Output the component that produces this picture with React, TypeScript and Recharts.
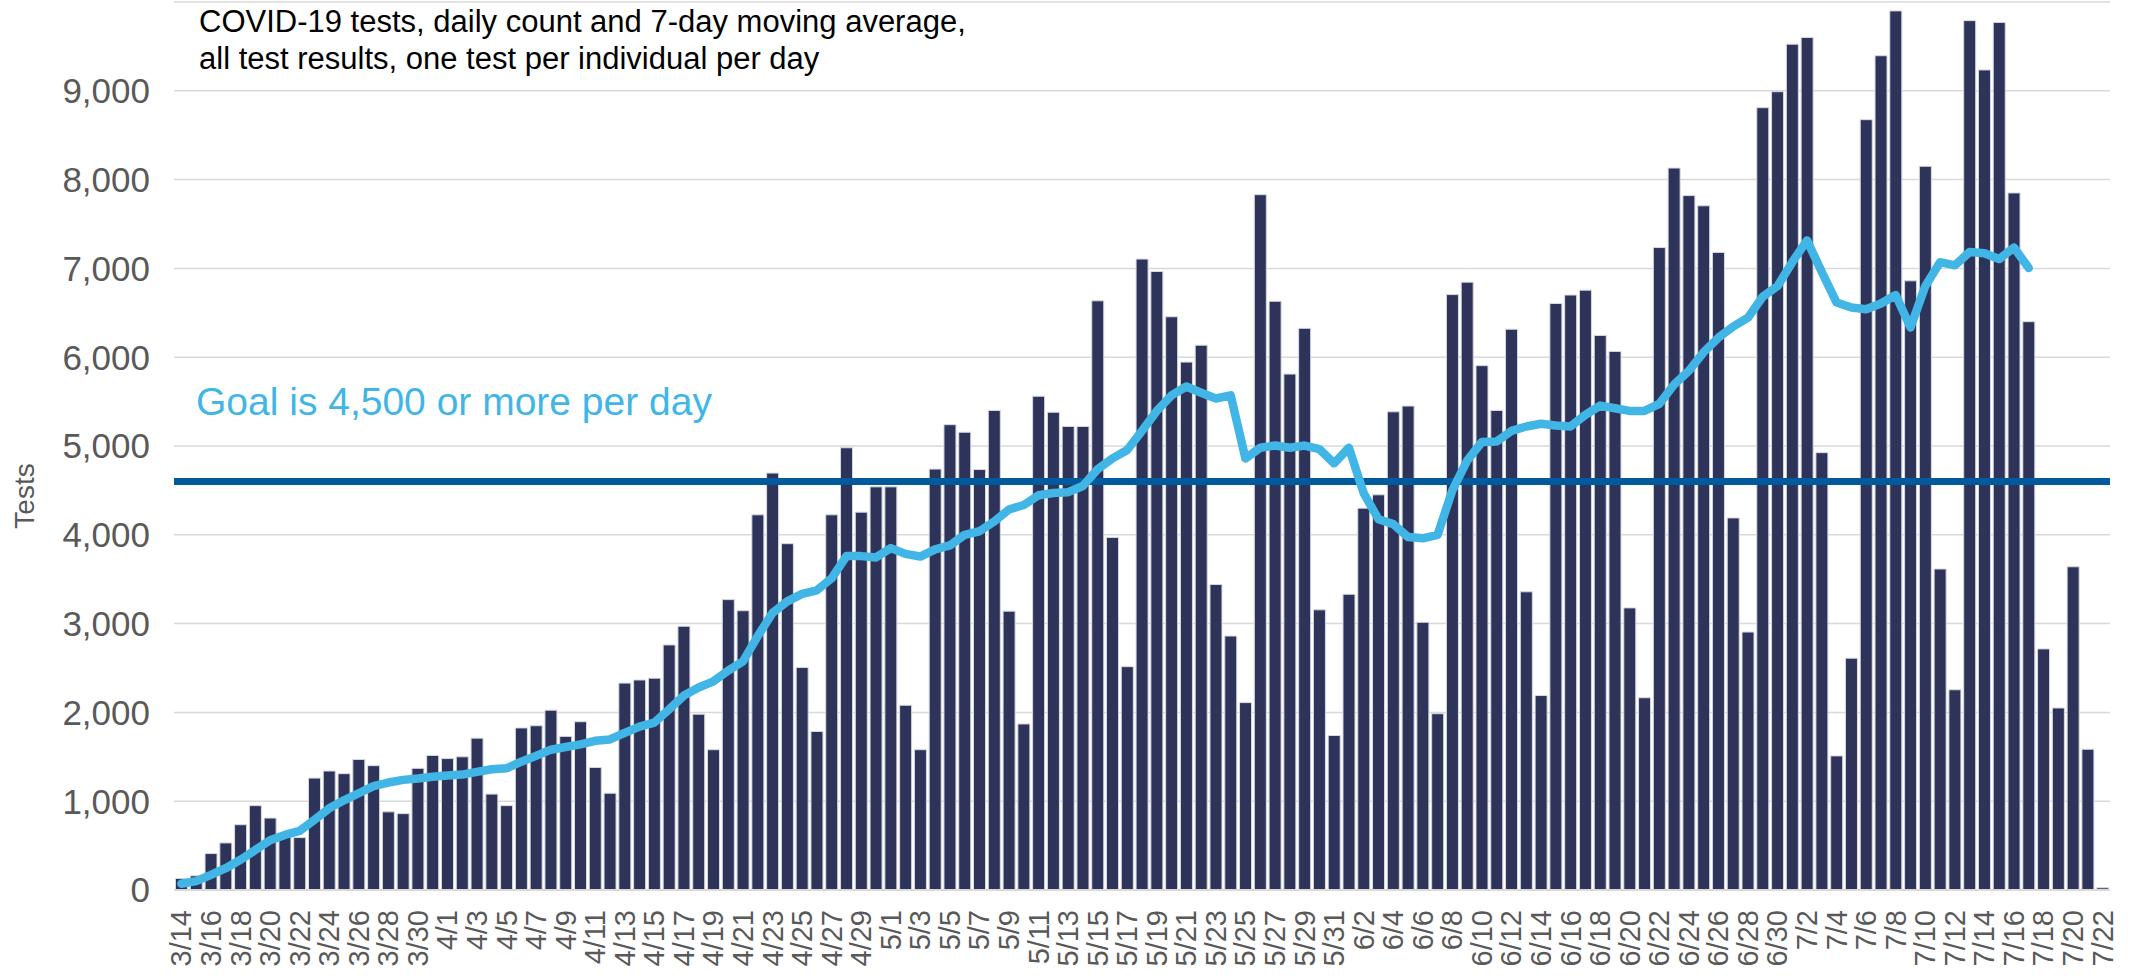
import { ComposedChart, Bar, Line, XAxis, YAxis, CartesianGrid, ReferenceLine } from 'recharts';

// daily test counts, one array per month (3/14 .. 7/22)
const marchTests = [130, 160, 410, 530, 735, 950, 810, 620, 590, 1260, 1340, 1310, 1470, 1400, 880, 860, 1370, 1515];
const aprilTests = [
  1480, 1500, 1710, 1080, 950, 1825, 1850, 2025, 1730, 1895, 1380, 1090, 2330, 2365, 2385,
  2760, 2970, 1980, 1580, 3270, 3145, 4225, 4695, 3900, 2505, 1785, 4225, 4980, 4255, 4540,
];
const mayTests = [
  4540, 2080, 1580, 4740, 5240, 5155, 4735, 5400, 3140, 1870, 5560, 5380, 5220, 5220, 6635, 3970,
  2515, 7105, 6965, 6455, 5945, 6135, 3440, 2860, 2110, 7830, 6630, 5810, 6325, 3155, 1740,
];
const juneTests = [
  3330, 4300, 4450, 5385, 5450, 3015, 1985, 6705, 6845, 5905, 5400, 6315, 3358, 2190, 6605,
  6700, 6755, 6245, 6065, 3177, 2165, 7235, 8130, 7820, 7705, 7180, 4190, 2905, 8810, 8990,
];
const julyTests = [
  9525, 9600, 4925, 1510, 2610, 8675, 9395, 9900, 6860, 8150, 3615, 2255, 9790, 9235, 9770,
  7850, 6400, 2715, 2050, 3640, 1585, 25,
];

// 7-day moving average, 3/14 .. 7/17
const movingAvg = [
  70, 100, 170, 245, 340, 450, 560, 620, 665, 790, 920, 1010, 1090, 1170, 1210, 1240, 1255, 1275,
  1290, 1300, 1330, 1360, 1370, 1445, 1510, 1580, 1610, 1640, 1680, 1695, 1770, 1840, 1885, 2035,
  2190, 2280, 2350, 2470, 2575, 2860, 3120, 3250, 3335, 3375, 3510, 3760, 3760, 3745, 3850, 3785,
  3755, 3835, 3880, 4000, 4040, 4150, 4285, 4335, 4445, 4470, 4480, 4550, 4740, 4860, 4955, 5170,
  5395, 5570, 5670, 5600, 5535, 5570, 4860, 4980, 5005, 4980, 5005, 4965, 4805, 4980, 4470, 4175,
  4120, 3975, 3960, 4000, 4500, 4835, 5045, 5050, 5170, 5220, 5250, 5230, 5220, 5350, 5455, 5425,
  5395, 5395, 5475, 5690, 5845, 6055, 6220, 6345, 6445, 6680, 6800, 7070, 7315, 6960, 6615, 6560,
  6540, 6605, 6700, 6335, 6800, 7070, 7035, 7185, 7170, 7105, 7235, 7005,
];

const months = [
  { m: 3, first: 14, tests: marchTests },
  { m: 4, first: 1, tests: aprilTests },
  { m: 5, first: 1, tests: mayTests },
  { m: 6, first: 1, tests: juneTests },
  { m: 7, first: 1, tests: julyTests },
];

const yTicks = [0, 1000, 2000, 3000, 4000, 5000, 6000, 7000, 8000, 9000];
const goal = 4600;

const data: { date: string; tests: number; avg: number | null }[] = [];
months.forEach(({ m, first, tests }) => {
  tests.forEach((t, i) => {
    const idx = data.length;
    data.push({ date: `${m}/${first + i}`, tests: t, avg: idx < movingAvg.length ? movingAvg[idx] : null });
  });
});

const FONT = '"Liberation Sans", Arial, sans-serif';

const DateTick = ({ x, y, payload }: any) => (
  <text
    x={x}
    y={y}
    transform={`rotate(-90 ${x} ${y})`}
    textAnchor="end"
    dominantBaseline="central"
    fill="#595959"
    fontSize={29}
    fontFamily={FONT}
  >
    {payload.value}
  </text>
);

export default function App() {
  return (
    <div style={{ position: 'absolute', left: 0, top: 0, width: 2131, height: 976, background: '#fff' }}>
      <ComposedChart
        width={2131}
        height={976}
        data={data}
        margin={{ top: 2, right: 21, bottom: 0, left: 0 }}
        barCategoryGap="10%"
      >
        <CartesianGrid vertical={false} stroke="#d9d9d9" strokeWidth={1.5} />
        <XAxis
          dataKey="date"
          interval={1}
          height={86}
          tickLine={false}
          tickSize={0}
          tickMargin={20}
          axisLine={{ stroke: '#d9d9d9', strokeWidth: 2 }}
          tick={<DateTick />}
        />
        <YAxis
          width={174}
          domain={[0, 10000]}
          ticks={yTicks}
          axisLine={false}
          tickLine={false}
          tickSize={10}
          tickMargin={14}
          tickFormatter={(v: number) => v.toLocaleString('en-US')}
          tick={{ fill: '#595959', fontSize: 35, fontFamily: FONT }}
        />
        <Bar dataKey="tests" fill="#2e3459" stroke="#d6d8e2" strokeWidth={1} isAnimationActive={false} />
        <ReferenceLine y={goal} stroke="#005a9c" strokeWidth={7} />
        <Line
          dataKey="avg"
          type="linear"
          stroke="#41b6e6"
          strokeWidth={8.5}
          strokeLinejoin="round"
          strokeLinecap="round"
          dot={false}
          activeDot={false}
          isAnimationActive={false}
        />
      </ComposedChart>
      <div style={{ position: 'absolute', left: 199, top: 3, fontFamily: FONT, fontSize: 31, lineHeight: '37px', color: '#000' }}>
        COVID-19 tests, daily count and 7-day moving average,
        <br />
        all test results, one test per individual per day
      </div>
      <div style={{ position: 'absolute', left: 196, top: 380, fontFamily: FONT, fontSize: 39, color: '#41b6e6', whiteSpace: 'nowrap' }}>
        Goal is 4,500 or more per day
      </div>
      <div
        style={{
          position: 'absolute',
          left: 25,
          top: 496,
          transform: 'translate(-50%, -50%) rotate(-90deg)',
          fontFamily: FONT,
          fontSize: 28,
          color: '#595959',
        }}
      >
        Tests
      </div>
    </div>
  );
}
